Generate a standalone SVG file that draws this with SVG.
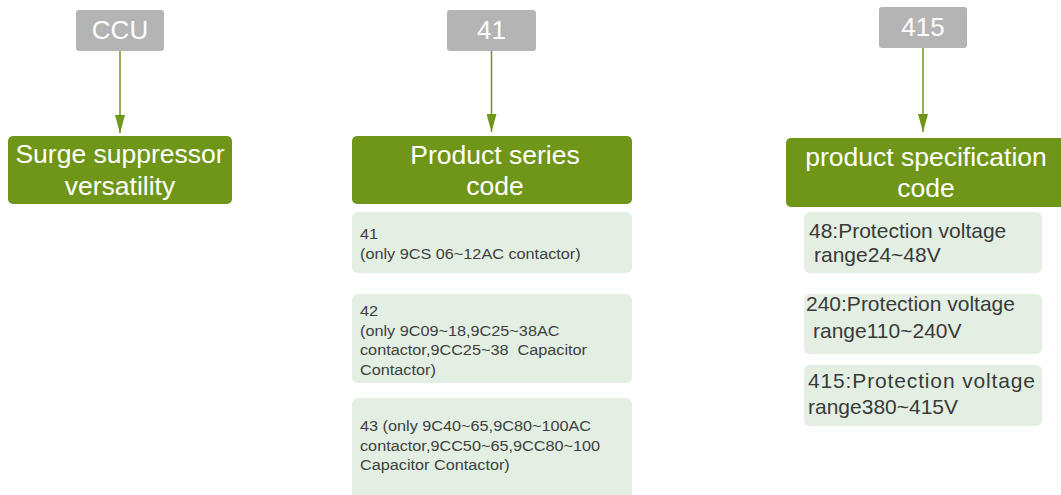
<svg xmlns="http://www.w3.org/2000/svg" width="1061" height="495" viewBox="0 0 1061 495">
<defs>
<style>
.code{fill:#b4b4b4}
.codet{font-family:"Liberation Sans",Arial,sans-serif;font-size:26px;fill:#ffffff;text-anchor:middle}
.head{fill:#6f9618}
.headt{font-family:"Liberation Sans",Arial,sans-serif;font-size:26.5px;fill:#ffffff;text-anchor:middle}
.item{fill:#e2efe2}
.small{font-family:"Liberation Sans",Arial,sans-serif;font-size:14px;fill:#404040}
.mid{font-family:"Liberation Sans",Arial,sans-serif;font-size:21px;fill:#3a3a3a}
.conn{stroke:#6f9618;stroke-width:1.5;fill:none}
</style>
<marker id="ah" viewBox="0 0 18 10" refX="18" refY="5" markerWidth="18" markerHeight="10" markerUnits="userSpaceOnUse" orient="auto">
<path d="M0,0 L18,5 L0,10 Z" fill="#6f9618"/>
</marker>
</defs>
<rect width="1061" height="495" fill="#ffffff"/>
<g id="connectors">
<line class="conn" x1="120" y1="51" x2="120" y2="133" marker-end="url(#ah)"/>
<line class="conn" x1="491.5" y1="51" x2="491.5" y2="132" marker-end="url(#ah)"/>
<line class="conn" x1="923" y1="48" x2="923" y2="132" marker-end="url(#ah)"/>
</g>
<g id="code-ccu">
<rect class="code" x="76" y="10" width="88" height="41" rx="3"/>
<text class="codet" x="120" y="39">CCU</text>
</g>
<g id="code-41">
<rect class="code" x="447" y="10" width="89" height="41" rx="3"/>
<text class="codet" x="491.5" y="39">41</text>
</g>
<g id="code-415">
<rect class="code" x="879" y="7" width="88" height="41" rx="3"/>
<text class="codet" x="923" y="36">415</text>
</g>
<g id="head-surge">
<rect class="head" x="8" y="136" width="224" height="68" rx="5"/>
<text class="headt" x="120" y="163">Surge suppressor</text>
<text class="headt" x="120" y="195">versatility</text>
</g>
<g id="head-series">
<rect class="head" x="352" y="136" width="280" height="68" rx="5"/>
<text class="headt" x="495" y="164">Product series</text>
<text class="headt" x="495" y="195">code</text>
</g>
<g id="head-spec">
<rect class="head" x="786" y="138" width="290" height="69" rx="5"/>
<text class="headt" x="926" y="166">product specification</text>
<text class="headt" x="926" y="197">code</text>
</g>
<g id="series-41">
<rect class="item" x="352" y="212" width="280" height="61" rx="6"/>
<g transform="translate(360,0) scale(1.16,1)">
<text class="small" x="0" y="239">41</text>
<text class="small" x="0" y="259">(only 9CS 06~12AC contactor)</text>
</g>
</g>
<g id="series-42">
<rect class="item" x="352" y="294" width="280" height="89" rx="6"/>
<g transform="translate(360,0) scale(1.16,1)">
<text class="small" x="0" y="316">42</text>
<text class="small" x="0" y="336">(only 9C09~18,9C25~38AC</text>
<text class="small" x="0" y="355.5" xml:space="preserve">contactor,9CC25~38  Capacitor</text>
<text class="small" x="0" y="375">Contactor)</text>
</g>
</g>
<g id="series-43">
<rect class="item" x="352" y="398" width="280" height="110" rx="6"/>
<g transform="translate(360,0) scale(1.16,1)">
<text class="small" x="0" y="431">43 (only 9C40~65,9C80~100AC</text>
<text class="small" x="0" y="451">contactor,9CC50~65,9CC80~100</text>
<text class="small" x="0" y="470">Capacitor Contactor)</text>
</g>
</g>
<g id="spec-48">
<rect class="item" x="804" y="212" width="238" height="61" rx="6"/>
<text class="mid" x="809" y="238">48:Protection voltage</text>
<text class="mid" x="814" y="262">range24~48V</text>
</g>
<g id="spec-240">
<rect class="item" x="804" y="294" width="238" height="60" rx="6"/>
<text class="mid" x="806" y="311">240:Protection voltage</text>
<text class="mid" x="813" y="338">range110~240V</text>
</g>
<g id="spec-415">
<rect class="item" x="804" y="365" width="238" height="61" rx="6"/>
<text class="mid" x="808" y="388" textLength="227" lengthAdjust="spacing">415:Protection voltage</text>
<text class="mid" x="808" y="414">range380~415V</text>
</g>
</svg>
